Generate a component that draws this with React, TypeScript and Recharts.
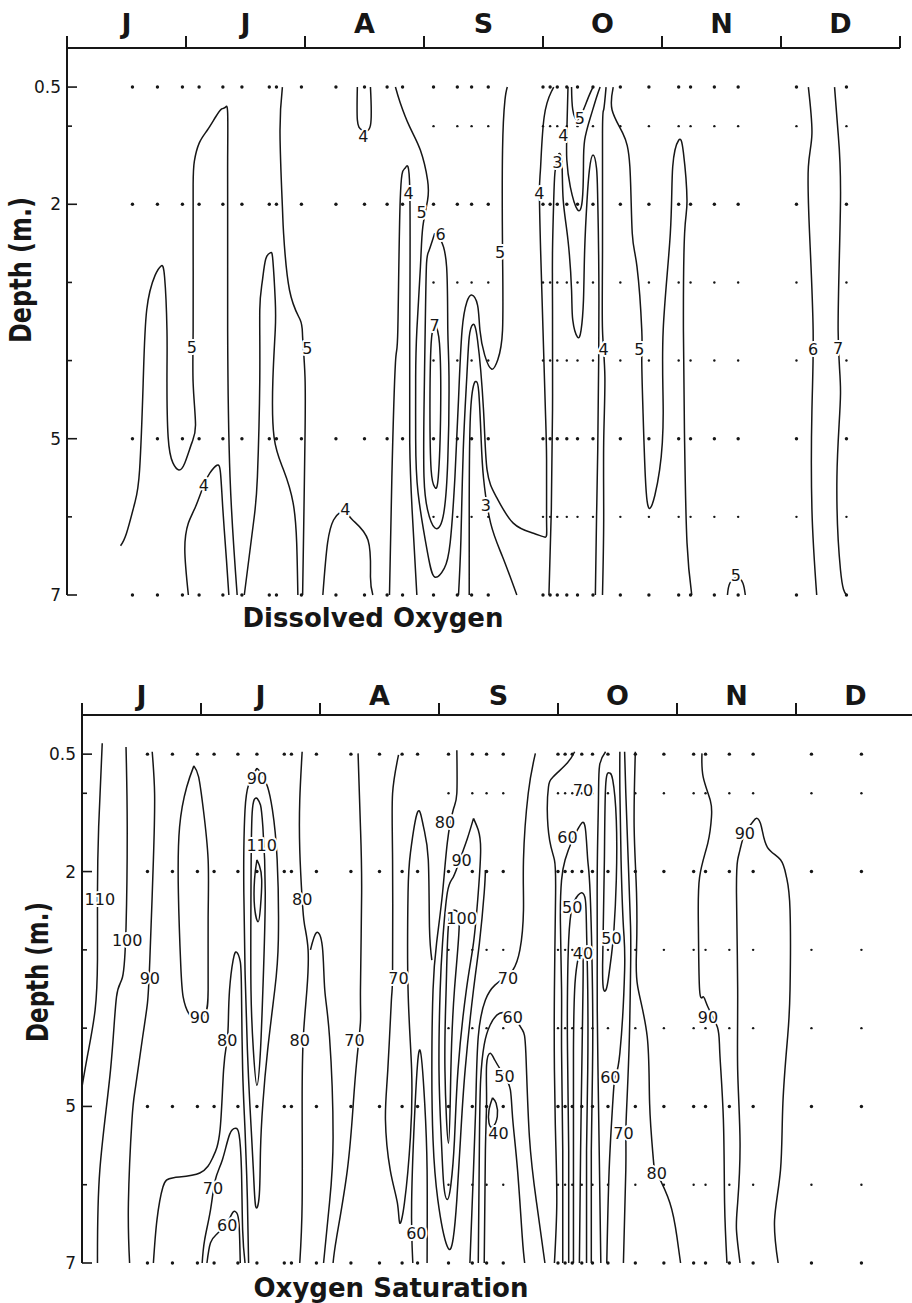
import { ScatterChart, Scatter, XAxis, YAxis } from "recharts";

type Pt = [number, number];
type Lbl = [number, number, string];

// x = months after 1 June (0..7), y = depth in metres
const monthLetters = ["J", "J", "A", "S", "O", "N", "D"];
const depthTicks = [0.5, 1, 2, 3, 4, 5, 6, 7];
const depthLabelled = [0.5, 2, 5, 7];
const sampleTimes = [
  0.55, 0.76, 0.97, 1.11, 1.31, 1.47, 1.7, 1.76, 1.97, 2.26, 2.5, 2.69, 2.82, 3.08, 3.28, 3.4, 3.54,
  4.0, 4.06, 4.12, 4.2, 4.29, 4.42, 4.65, 4.89, 5.14, 5.24, 5.44, 5.64, 6.13, 6.55,
];
const mainDepths = [0.5, 2, 5, 7];
const extraDepths = [1, 3, 4, 6];

// ---- Dissolved oxygen isolines ----
const doJune5: Pt[] = [[0.45,6.37],[0.5,6.21],[0.57,5.82],[0.61,5.4],[0.64,4.29],[0.67,3.35],[0.74,2.91],[0.79,2.79],[0.82,2.93],[0.84,3.61],[0.84,4.21],[0.85,4.98],[0.89,5.31],[0.94,5.4],[0.99,5.31],[1.05,5.05],[1.08,4.82],[1.06,4.29],[1.06,3.61],[1.06,2.6],[1.06,1.75],[1.07,1.45],[1.11,1.22],[1.18,1.05],[1.25,0.88],[1.3,0.78],[1.33,0.76],[1.35,0.83],[1.35,1.4],[1.35,2.03],[1.35,3.61],[1.37,5.49],[1.43,7.0]];
const doJune4: Pt[] = [[1.02,7.0],[0.99,6.42],[1.02,6.08],[1.08,5.87],[1.15,5.59],[1.2,5.44],[1.26,5.34],[1.29,5.44],[1.31,5.91],[1.34,6.55],[1.36,7.0]];
const doJuly5: Pt[] = [[1.49,7.0],[1.57,6.04],[1.6,5.49],[1.62,4.25],[1.62,3.35],[1.64,3.0],[1.67,2.7],[1.71,2.62],[1.73,2.72],[1.75,3.23],[1.75,3.61],[1.73,4.25],[1.74,4.98],[1.82,5.4],[1.9,5.82],[1.93,6.33],[1.94,7.0]];
const doJulyB5: Pt[] = [[1.81,0.5],[1.79,1.09],[1.81,2.03],[1.82,2.37],[1.87,3.1],[1.96,3.48],[1.98,3.7],[2.0,4.21],[2.0,4.98],[1.99,6.04],[1.98,7.0]];
const doAugTop4: Pt[] = [[2.44,0.5],[2.44,0.92],[2.48,1.05],[2.55,0.99],[2.55,0.5]];
const doAugBot4: Pt[] = [[2.15,7.0],[2.19,6.33],[2.24,6.04],[2.29,5.95],[2.34,5.93],[2.4,6.04],[2.53,6.3],[2.55,6.77],[2.57,7.0]];
const doAugArch4: Pt[] = [[2.71,7.0],[2.73,5.49],[2.76,4.03],[2.78,3.61],[2.8,1.95],[2.84,1.54],[2.88,1.78],[2.88,3.61],[2.88,5.05],[2.9,5.91],[2.94,7.0]];
const doSep5: Pt[] = [[2.76,0.5],[2.8,0.7],[2.88,1.01],[2.97,1.31],[3.03,1.69],[3.03,1.95],[2.99,2.29],[2.97,2.8],[2.94,3.61],[2.93,4.21],[2.93,5.0],[2.95,5.69],[3.03,6.46],[3.09,6.77],[3.17,6.66],[3.22,6.33],[3.26,5.49],[3.29,4.5],[3.32,3.61],[3.36,3.25],[3.4,3.16],[3.45,3.29],[3.47,3.61],[3.51,3.93],[3.57,4.11],[3.62,3.99],[3.66,3.61],[3.66,2.59],[3.66,1.31],[3.68,0.67],[3.7,0.5]];
const doSep6: Pt[] = [[3.09,2.37],[3.04,2.6],[3.02,2.8],[3.01,3.61],[3.0,4.63],[3.0,5.49],[3.03,5.91],[3.09,6.14],[3.16,6.0],[3.2,5.27],[3.21,4.2],[3.2,3.61],[3.19,2.8],[3.14,2.46],[3.09,2.37]];
const doSep7: Pt[] = [[3.09,3.52],[3.06,3.78],[3.05,4.63],[3.06,5.4],[3.09,5.62],[3.12,5.49],[3.14,4.63],[3.13,3.78],[3.09,3.52]];
const doSep4: Pt[] = [[3.29,7.0],[3.31,6.3],[3.33,5.14],[3.36,4.2],[3.38,3.7],[3.41,3.54],[3.45,3.74],[3.5,4.63],[3.53,5.4],[3.61,5.75],[3.75,6.08],[3.92,6.21],[4.02,6.26],[4.03,6.04],[4.03,5.27],[4.02,4.63],[4.0,3.61],[3.98,2.59],[3.97,1.84],[3.98,1.52],[4.01,0.88],[4.07,0.56],[4.09,0.5]];
const doSep3: Pt[] = [[3.38,7.0],[3.38,5.78],[3.39,4.7],[3.42,4.3],[3.44,4.27],[3.46,4.4],[3.48,5.0],[3.5,5.5],[3.56,6.08],[3.66,6.51],[3.78,7.0]];
const doOct3: Pt[] = [[4.05,7.0],[4.07,5.91],[4.08,4.63],[4.08,3.35],[4.08,2.59],[4.09,1.95],[4.1,1.6],[4.12,1.41],[4.14,1.35],[4.16,1.5],[4.17,1.95],[4.21,2.46],[4.24,3.1],[4.25,3.48],[4.29,3.7],[4.32,3.61],[4.34,3.23],[4.35,2.59],[4.37,1.95],[4.39,1.56],[4.42,1.37],[4.45,1.54],[4.46,1.95],[4.47,3.23],[4.46,5.14],[4.45,6.0],[4.44,7.0]];
const doOct4U: Pt[] = [[4.21,0.5],[4.2,1.09],[4.2,1.43],[4.23,1.78],[4.29,2.07],[4.33,1.95],[4.34,1.52],[4.35,1.18],[4.4,0.88],[4.45,0.63],[4.48,0.5]];
const doOct5U: Pt[] = [[4.24,0.5],[4.25,0.79],[4.29,0.92],[4.34,0.79],[4.39,0.6],[4.42,0.5]];
const doOct4: Pt[] = [[4.53,0.5],[4.51,0.79],[4.5,1.09],[4.5,2.59],[4.5,3.61],[4.52,4.21],[4.51,5.05],[4.51,6.04],[4.5,7.0]];
const doOct5: Pt[] = [[4.59,0.5],[4.58,0.79],[4.67,1.09],[4.73,1.52],[4.75,2.37],[4.79,2.8],[4.83,3.61],[4.83,3.99],[4.84,4.63],[4.86,5.49],[4.9,5.89],[4.98,5.4],[5.01,4.63],[5.01,3.61],[5.07,2.37],[5.09,1.52],[5.14,1.18],[5.18,1.34],[5.21,1.95],[5.19,2.37],[5.18,3.61],[5.19,5.05],[5.21,6.33],[5.25,7.0]];
const doNov5: Pt[] = [[5.55,7.0],[5.57,6.85],[5.63,6.78],[5.68,6.85],[5.7,7.0]];
const doDec6: Pt[] = [[6.23,0.5],[6.26,1.09],[6.23,1.52],[6.24,2.37],[6.27,3.61],[6.26,4.63],[6.26,5.91],[6.3,7.0]];
const doDec7: Pt[] = [[6.45,0.5],[6.48,1.09],[6.5,1.95],[6.48,3.61],[6.5,4.42],[6.47,5.49],[6.5,6.68],[6.55,7.0]];

const doLines = [doJune5, doJune4, doJuly5, doJulyB5, doAugTop4, doAugBot4, doAugArch4, doSep5, doSep6, doSep7, doSep4, doSep3, doOct3, doOct4U, doOct5U, doOct4, doOct5, doNov5, doDec6, doDec7];
const doLabels: Lbl[] = [
  [1.05,3.83,"5"],[1.15,5.59,"4"],[2.02,3.84,"5"],[2.49,1.12,"4"],[2.34,5.9,"4"],[2.87,1.85,"4"],
  [2.98,2.1,"5"],[3.14,2.38,"6"],[3.64,2.61,"5"],[3.09,3.55,"7"],[3.52,5.85,"3"],[3.97,1.86,"4"],
  [4.12,1.46,"3"],[4.17,1.11,"4"],[4.31,0.9,"5"],[4.51,3.85,"4"],[4.81,3.85,"5"],[5.62,6.74,"5"],
  [6.27,3.85,"6"],[6.48,3.84,"7"],
];

// ---- Oxygen saturation isolines ----
const satJune110: Pt[] = [[0.17,0.36],[0.14,1.43],[0.13,2.27],[0.13,3.13],[0.11,3.77],[0.05,4.32],[0.0,4.75]];
const satJune100: Pt[] = [[0.37,0.41],[0.38,1.43],[0.37,2.71],[0.34,3.35],[0.29,3.6],[0.24,4.53],[0.15,5.81],[0.13,7.0]];
const satJune90: Pt[] = [[0.59,0.47],[0.61,1.0],[0.6,1.85],[0.57,3.13],[0.55,3.68],[0.51,4.11],[0.45,4.75],[0.42,5.17],[0.39,6.23],[0.4,7.0]];
const satJune90Loop: Pt[] = [[0.94,0.65],[0.88,0.92],[0.82,1.43],[0.81,2.27],[0.83,3.2],[0.85,3.6],[0.9,3.82],[0.98,3.9],[1.04,3.8],[1.06,3.51],[1.06,2.6],[1.06,1.85],[1.02,1.21],[0.98,0.79],[0.94,0.65]];
const satJuly80: Pt[] = [[0.6,7.0],[0.63,6.45],[0.68,6.03],[0.77,5.91],[0.99,5.85],[1.1,5.65],[1.16,5.3],[1.19,4.53],[1.22,4.15],[1.23,3.9],[1.24,3.51],[1.27,3.13],[1.3,3.03],[1.33,3.15],[1.34,3.51],[1.35,4.53],[1.37,5.3],[1.39,6.19],[1.4,7.0]];
const satJuly70: Pt[] = [[1.01,7.0],[1.03,6.71],[1.08,6.32],[1.12,5.94],[1.18,5.68],[1.24,5.36],[1.29,5.28],[1.32,5.36],[1.34,5.81],[1.35,6.58],[1.37,7.0]];
const satJuly60: Pt[] = [[1.05,7.0],[1.08,6.74],[1.14,6.62],[1.22,6.48],[1.27,6.35],[1.3,6.36],[1.32,6.51],[1.33,7.0]];
const satJuly90: Pt[] = [[1.47,0.68],[1.4,0.89],[1.37,1.21],[1.36,1.72],[1.36,2.27],[1.37,3.26],[1.39,4.28],[1.41,4.96],[1.44,5.81],[1.46,6.28],[1.49,6.13],[1.5,5.56],[1.52,4.96],[1.56,4.28],[1.62,3.51],[1.65,2.87],[1.64,1.85],[1.6,1.21],[1.56,0.92],[1.51,0.75],[1.47,0.68]];
const satJuly100: Pt[] = [[1.47,1.06],[1.43,1.25],[1.42,2.27],[1.42,3.51],[1.44,4.28],[1.47,4.73],[1.5,4.28],[1.52,3.51],[1.54,2.27],[1.52,1.43],[1.5,1.15],[1.47,1.06]];
const satJuly110: Pt[] = [[1.47,1.85],[1.45,2.1],[1.45,2.45],[1.48,2.64],[1.5,2.45],[1.51,2.1],[1.49,1.92],[1.47,1.85]];
const satJulyB80: Pt[] = [[1.85,0.47],[1.83,1.09],[1.83,1.72],[1.85,2.35],[1.87,2.68],[1.9,3.0],[1.89,3.51],[1.86,4.11],[1.85,4.96],[1.85,6.23],[1.83,7.0]];
const satJulyBump80: Pt[] = [[1.92,3.0],[1.97,2.78],[2.02,2.96],[2.04,3.51],[2.08,4.11],[2.11,5.39],[2.08,6.23],[2.03,7.0]];
const satAug70: Pt[] = [[2.32,0.49],[2.34,1.43],[2.35,2.27],[2.34,3.51],[2.34,3.93],[2.31,4.4],[2.28,4.96],[2.23,5.81],[2.14,6.67],[2.11,7.0]];
const satAugB70: Pt[] = [[2.66,0.51],[2.61,1.0],[2.61,1.85],[2.61,3.26],[2.6,3.64],[2.57,4.53],[2.55,5.17],[2.59,5.81],[2.65,6.23],[2.67,6.49],[2.71,6.23],[2.76,5.39],[2.77,4.53],[2.74,3.51],[2.74,2.27],[2.76,1.76],[2.82,1.24],[2.87,1.43],[2.91,1.85],[2.92,2.71],[2.94,3.13]];
const satAug60: Pt[] = [[2.78,7.0],[2.77,6.23],[2.8,4.96],[2.84,4.28],[2.88,4.96],[2.9,5.81],[2.9,7.0]];
const satSep80: Pt[] = [[3.15,0.45],[3.15,1.0],[3.12,1.21],[3.07,1.63],[3.03,2.27],[2.98,2.91],[2.95,3.51],[2.94,4.53],[2.95,5.43],[2.99,6.19],[3.07,6.79],[3.12,6.68],[3.15,6.19],[3.18,5.43],[3.22,4.53],[3.29,3.51],[3.34,2.91],[3.38,2.27],[3.39,1.98]];
const satSep90: Pt[] = [[3.29,1.32],[3.24,1.57],[3.18,1.83],[3.12,2.07],[3.07,2.27],[3.03,2.91],[3.01,3.51],[3.0,4.53],[3.02,5.43],[3.04,6.0],[3.07,6.19],[3.1,6.0],[3.13,5.43],[3.16,4.53],[3.23,3.51],[3.29,2.91],[3.33,2.27],[3.35,1.72],[3.33,1.47],[3.29,1.32]];
const satSep100: Pt[] = [[3.13,2.49],[3.08,2.68],[3.06,3.51],[3.05,4.53],[3.08,5.47],[3.1,4.53],[3.13,3.51],[3.17,2.68],[3.13,2.49]];
const satSep70: Pt[] = [[3.81,0.49],[3.75,1.0],[3.71,1.85],[3.71,2.49],[3.68,3.0],[3.62,3.26],[3.55,3.36],[3.47,3.45],[3.39,3.64],[3.33,4.11],[3.31,4.92],[3.29,5.81],[3.26,7.0]];
const satSep60: Pt[] = [[3.33,7.0],[3.34,5.43],[3.35,4.66],[3.38,4.21],[3.43,3.96],[3.51,3.81],[3.62,3.86],[3.7,4.02],[3.73,4.32],[3.76,5.39],[3.82,6.23],[3.89,7.0]];
const satSep50: Pt[] = [[3.38,7.0],[3.39,5.56],[3.4,4.92],[3.4,4.47],[3.43,4.32],[3.47,4.41],[3.55,4.61],[3.6,4.79],[3.62,5.17],[3.66,5.81],[3.7,6.67],[3.72,7.0]];
const satSep40: Pt[] = [[3.45,4.89],[3.42,5.05],[3.42,5.21],[3.45,5.26],[3.49,5.13],[3.48,4.96],[3.45,4.89]];
const satOct70: Pt[] = [[4.14,0.47],[4.08,0.61],[3.96,0.79],[3.92,0.92],[3.91,1.21],[3.93,1.6],[3.97,1.85],[3.98,2.27],[3.97,3.51],[3.97,4.53],[3.98,5.39],[3.99,6.23],[3.97,7.0]];
const satOct60: Pt[] = [[4.04,7.0],[4.04,5.56],[4.03,4.28],[4.03,3.51],[4.02,2.62],[4.03,2.11],[4.06,1.85],[4.12,1.6],[4.17,1.45],[4.2,1.38],[4.23,1.45],[4.25,1.85],[4.27,2.27],[4.29,3.51],[4.29,4.53],[4.28,5.56],[4.28,7.0]];
const satOct50: Pt[] = [[4.09,7.0],[4.09,5.56],[4.08,4.28],[4.08,3.51],[4.09,2.87],[4.12,2.45],[4.17,2.3],[4.2,2.27],[4.23,2.36],[4.24,2.75],[4.25,3.51],[4.25,4.53],[4.24,5.56],[4.24,7.0]];
const satOct40: Pt[] = [[4.13,7.0],[4.13,5.56],[4.13,4.28],[4.14,3.51],[4.16,3.19],[4.19,2.98],[4.21,3.07],[4.21,3.51],[4.2,4.53],[4.19,5.56],[4.18,7.0]];
const satOctMid: Pt[] = [[4.4,0.47],[4.35,0.64],[4.34,1.09],[4.33,1.98],[4.33,3.0],[4.33,3.77],[4.34,4.92],[4.35,5.94],[4.36,7.0]];
const satOct50Loop: Pt[] = [[4.43,0.74],[4.4,0.92],[4.39,1.85],[4.38,2.75],[4.375,3.2],[4.38,3.48],[4.4,3.52],[4.42,3.4],[4.45,3.06],[4.47,2.75],[4.49,2.11],[4.49,1.34],[4.46,0.83],[4.43,0.74]];
const satOctB60: Pt[] = [[4.52,0.47],[4.52,0.96],[4.53,1.85],[4.55,2.71],[4.56,3.26],[4.52,4.32],[4.48,4.62],[4.46,4.96],[4.43,5.81],[4.41,7.0]];
const satOctB70: Pt[] = [[4.56,0.47],[4.57,1.0],[4.59,1.85],[4.61,2.71],[4.61,3.26],[4.6,4.11],[4.58,4.92],[4.57,5.34],[4.57,5.81],[4.55,7.0]];
const satOct80: Pt[] = [[4.65,0.47],[4.64,1.43],[4.66,2.27],[4.66,3.0],[4.67,3.47],[4.75,4.11],[4.77,4.96],[4.8,5.65],[4.83,5.85],[4.94,6.23],[5.0,6.67],[5.03,7.0]];
const satNov90: Pt[] = [[5.21,0.49],[5.22,0.79],[5.28,1.09],[5.29,1.3],[5.26,1.63],[5.19,2.07],[5.18,2.71],[5.19,3.51],[5.22,3.6],[5.26,3.73],[5.34,3.99],[5.36,4.32],[5.39,5.17],[5.4,6.23],[5.42,7.0]];
const satNovB90: Pt[] = [[5.53,7.0],[5.5,6.58],[5.51,6.23],[5.53,5.47],[5.51,4.53],[5.51,3.51],[5.5,2.27],[5.51,1.85],[5.53,1.72],[5.57,1.51],[5.63,1.38],[5.67,1.32],[5.71,1.43],[5.76,1.69],[5.87,1.85],[5.92,2.07],[5.95,2.49],[5.95,3.51],[5.93,4.11],[5.89,4.96],[5.87,5.81],[5.82,6.45],[5.85,7.0]];

const satLines = [satJune110, satJune100, satJune90, satJune90Loop, satJuly80, satJuly70, satJuly60, satJuly90, satJuly100, satJuly110, satJulyB80, satJulyBump80, satAug70, satAugB70, satAug60, satSep80, satSep90, satSep100, satSep70, satSep60, satSep50, satSep40, satOct70, satOct60, satOct50, satOct40, satOctMid, satOct50Loop, satOctB60, satOctB70, satOct80, satNov90, satNovB90];
const satLabels: Lbl[] = [
  [0.15,2.35,"110"],[0.38,2.87,"100"],[0.57,3.36,"90"],[0.99,3.86,"90"],[1.47,0.8,"90"],[1.51,1.66,"110"],
  [1.85,2.35,"80"],[1.22,4.15,"80"],[1.83,4.15,"80"],[1.1,6.04,"70"],[1.22,6.51,"60"],[2.29,4.15,"70"],
  [2.66,3.36,"70"],[2.81,6.62,"60"],[3.05,1.37,"80"],[3.19,1.85,"90"],[3.19,2.59,"100"],[3.58,3.36,"70"],
  [3.62,3.86,"60"],[3.55,4.61,"50"],[3.5,5.34,"40"],[4.21,0.96,"70"],[4.08,1.56,"60"],[4.12,2.45,"50"],
  [4.21,3.04,"40"],[4.45,2.85,"50"],[4.44,4.62,"60"],[4.55,5.34,"70"],[4.83,5.85,"80"],[5.26,3.86,"90"],
  [5.57,1.51,"90"],
];

const INK = "#161616";
const FONT = "'DejaVu Sans', 'Liberation Sans', sans-serif";

const toXY = (pts: Pt[]) => pts.map(([x, y]) => ({ x, y }));

const samplingDots = () => {
  const out: { x: number; y: number; big: boolean }[] = [];
  for (const t of sampleTimes) {
    for (const d of mainDepths) out.push({ x: t, y: d, big: true });
    if (t >= 3) for (const d of extraDepths) out.push({ x: t, y: d, big: false });
  }
  return out;
};

const Empty = () => <g />;

const Dot = (p: any) => <circle cx={p.cx} cy={p.cy} r={p.payload.big ? 1.7 : 1.2} fill={INK} />;

const ContourLabel = (p: any) => (
  <text
    x={p.cx}
    y={p.cy}
    dy={6}
    textAnchor="middle"
    fontSize={16}
    fontFamily={FONT}
    fill={INK}
    stroke="#fff"
    strokeWidth={4}
    strokeLinejoin="round"
    paintOrder="stroke"
  >
    {p.payload.t}
  </text>
);

const MonthTick = (p: any) => {
  const i = Math.round(p.payload.value);
  if (i >= monthLetters.length) return <g />;
  return (
    <text x={p.x + p.half} y={p.axisY - p.gap} textAnchor="middle" fontSize={27} fontWeight="bold" fontFamily={FONT} fill={INK}>
      {monthLetters[i]}
    </text>
  );
};

const DepthTick = (p: any) => {
  const v = p.payload.value;
  const major = depthLabelled.includes(v);
  return (
    <g>
      <line x1={p.axisX} x2={p.axisX + (major ? 10 : 5)} y1={p.y} y2={p.y} stroke={INK} strokeWidth={1.6} />
      {major && (
        <text x={p.axisX - 6} y={p.y} dy={6} textAnchor="end" fontSize={17} fontFamily={FONT} fill={INK}>
          {v}
        </text>
      )}
    </g>
  );
};

interface PanelProps {
  lines: Pt[][];
  labels: Lbl[];
  xMax: number;
  monthTicks: number[];
  height: number;
  plotTop: number;
  plotLeft: number;
  right: number;
  bottom: number;
  gap: number;
}

const AXIS_H = 30;
const AXIS_W = 60;

const Panel = ({ lines, labels, xMax, monthTicks, height, plotTop, plotLeft, right, bottom, gap }: PanelProps) => {
  const width = 912;
  const half = (width - plotLeft - right) / xMax / 2;
  return (
    <ScatterChart
      width={width}
      height={height}
      margin={{ top: plotTop - AXIS_H, right, bottom, left: plotLeft - AXIS_W }}
    >
      <XAxis
        type="number"
        dataKey="x"
        domain={[0, xMax]}
        orientation="top"
        ticks={monthTicks}
        interval={0}
        height={AXIS_H}
        tickSize={12}
        tickMargin={2}
        axisLine={{ stroke: INK, strokeWidth: 2 }}
        tickLine={{ stroke: INK, strokeWidth: 2 }}
        tick={(p: any) => <MonthTick {...p} half={half} axisY={plotTop} gap={gap} />}
      />
      <YAxis
        type="number"
        dataKey="y"
        domain={[0, 7]}
        reversed
        ticks={depthTicks}
        interval={0}
        width={AXIS_W}
        axisLine={{ stroke: INK, strokeWidth: 2 }}
        tickLine={false}
        tick={(p: any) => <DepthTick {...p} axisX={plotLeft} />}
      />
      <Scatter data={samplingDots()} shape={Dot} isAnimationActive={false} />
      {lines.map((l, i) => (
        <Scatter
          key={i}
          data={toXY(l)}
          line={{ stroke: INK, strokeWidth: 1.5 }}
          lineJointType="natural"
          shape={Empty}
          isAnimationActive={false}
        />
      ))}
      <Scatter data={labels.map(([x, y, t]) => ({ x, y, t }))} shape={ContourLabel} isAnimationActive={false} />
    </ScatterChart>
  );
};

export default function App() {
  return (
    <div style={{ position: "absolute", top: 0, left: 0, width: 912, height: 1303, background: "#fff" }}>
      <div style={{ position: "absolute", top: 0, left: 0 }}>
        <Panel
          lines={doLines}
          labels={doLabels}
          xMax={7}
          monthTicks={[0, 1, 2, 3, 4, 5, 6, 7]}
          height={640}
          plotTop={48}
          plotLeft={67}
          right={12}
          bottom={45}
          gap={15}
        />
      </div>
      <div style={{ position: "absolute", top: 660, left: 0 }}>
        <Panel
          lines={satLines}
          labels={satLabels}
          xMax={6.975}
          monthTicks={[0, 1, 2, 3, 4, 5, 6]}
          height={643}
          plotTop={55}
          plotLeft={82}
          right={0}
          bottom={40}
          gap={10}
        />
      </div>
      <svg width={912} height={1303} style={{ position: "absolute", top: 0, left: 0, pointerEvents: "none" }}>
        <text x={373} y={627} textAnchor="middle" fontSize={27} fontWeight="bold" fontFamily={FONT} fill={INK} textLength={261} lengthAdjust="spacingAndGlyphs">
          Dissolved Oxygen
        </text>
        <text x={391} y={1297} textAnchor="middle" fontSize={27} fontWeight="bold" fontFamily={FONT} fill={INK} textLength={275} lengthAdjust="spacingAndGlyphs">
          Oxygen Saturation
        </text>
        <text x={31} y={270} transform="rotate(-90 31 270)" textAnchor="middle" fontSize={30} fontWeight="bold" fontFamily={FONT} fill={INK} textLength={146} lengthAdjust="spacingAndGlyphs">
          Depth (m.)
        </text>
        <text x={48} y={972} transform="rotate(-90 48 972)" textAnchor="middle" fontSize={30} fontWeight="bold" fontFamily={FONT} fill={INK} textLength={140} lengthAdjust="spacingAndGlyphs">
          Depth (m.)
        </text>
      </svg>
    </div>
  );
}
